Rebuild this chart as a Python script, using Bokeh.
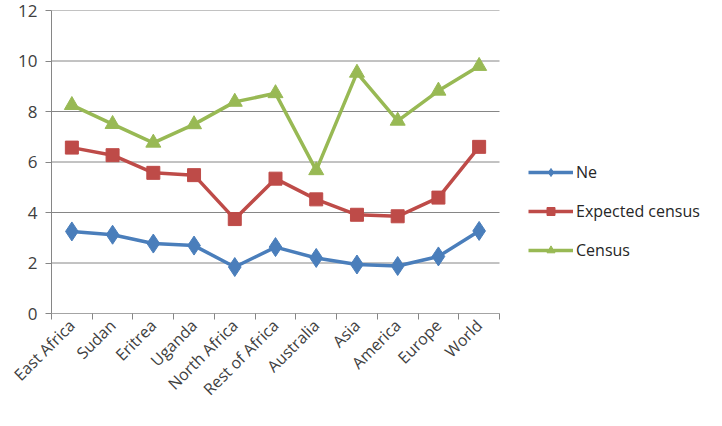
import math
from bokeh.plotting import figure
from bokeh.models import FixedTicker, Legend, LegendItem, Range1d
from bokeh.embed import file_html
from bokeh.resources import INLINE

categories = ["East Africa", "Sudan", "Eritrea", "Uganda", "North Africa", "Rest of Africa",
              "Australia", "Asia", "America", "Europe", "World"]
ne = [3.25, 3.12, 2.77, 2.69, 1.84, 2.63, 2.2, 1.94, 1.88, 2.26, 3.27]
expected_census = [6.57, 6.27, 5.57, 5.48, 3.74, 5.34, 4.52, 3.91, 3.85, 4.59, 6.6]
census = [8.25, 7.5, 6.76, 7.49, 8.38, 8.72, 5.67, 9.53, 7.63, 8.82, 9.8]
y_ticks = [0, 2, 4, 6, 8, 10, 12]

n = len(categories)
x = list(range(n))
FONT = "Open Sans"
TXT = "#404040"
AX = "#868686"

W, H = 706, 410
LEFT, TOP, BOTTOM = 51, 10, 97
frame_w = W - LEFT
cat_px = 448 / n
x_end = -0.5 + frame_w / cat_px

p = figure(width=W, height=H, output_backend="svg", toolbar_location=None,
           x_range=Range1d(-0.5, x_end), y_range=Range1d(0, 12),
           min_border_left=LEFT, min_border_top=TOP, min_border_bottom=BOTTOM, min_border_right=0)
p.outline_line_color = None
p.xgrid.grid_line_color = None
p.ygrid.grid_line_color = None

# horizontal gridlines only across the category span
p.segment(x0=[-0.5] * len(y_ticks), x1=[n - 0.5] * len(y_ticks), y0=y_ticks, y1=y_ticks,
          line_color=AX, line_width=1)

p.yaxis.ticker = FixedTicker(ticks=y_ticks)
p.yaxis.axis_line_color = AX
p.yaxis.major_tick_line_color = AX
p.yaxis.major_tick_out = 6
p.yaxis.major_tick_in = 0
p.yaxis.minor_tick_line_color = None
p.yaxis.major_label_text_font = FONT
p.yaxis.major_label_text_font_size = "17px"
p.yaxis.major_label_text_color = TXT
p.yaxis.major_label_standoff = 8

p.xaxis.ticker = FixedTicker(ticks=x, minor_ticks=[i - 0.5 for i in range(n + 1)])
p.xaxis.major_label_overrides = {i: c for i, c in enumerate(categories)}
p.xaxis.axis_line_color = None
p.xaxis.major_tick_line_color = None
p.xaxis.minor_tick_line_color = AX
p.xaxis.minor_tick_out = 6
p.xaxis.minor_tick_in = 0
p.xaxis.major_label_orientation = math.pi / 4
p.xaxis.major_label_text_font = FONT
p.xaxis.major_label_text_font_size = "16px"
p.xaxis.major_label_text_color = TXT
p.xaxis.major_label_standoff = 3

blue, red, green = "#4A7EBB", "#BE4B48", "#98B954"
l1 = p.line(x, ne, line_color=blue, line_width=3.5)
m1 = p.scatter(x, ne, marker="diamond", size=19, fill_color=blue, line_color=blue)
l2 = p.line(x, expected_census, line_color=red, line_width=3.5)
m2 = p.scatter(x, expected_census, marker="square", size=13, fill_color=red, line_color=red)
l3 = p.line(x, census, line_color=green, line_width=3.5)
m3 = p.scatter(x, census, marker="triangle", size=15, fill_color=green, line_color=green)

legend = Legend(items=[LegendItem(label="Ne", renderers=[l1, m1]),
                       LegendItem(label="Expected census", renderers=[l2, m2]),
                       LegendItem(label="Census", renderers=[l3, m3])],
                location=(477, 52), border_line_color=None, background_fill_alpha=0,
                padding=0, margin=0, spacing=17, glyph_width=45, glyph_height=20,
                label_height=20, label_standoff=3,
                label_text_font=FONT, label_text_font_size="16px", label_text_color="#262626")
p.add_layout(legend, "center")

# x axis baseline across the category span
p.segment(x0=[-0.5], x1=[n - 0.5], y0=[0], y1=[0], line_color=AX, line_width=1)

open("out.html", "w").write(file_html(p, INLINE))
